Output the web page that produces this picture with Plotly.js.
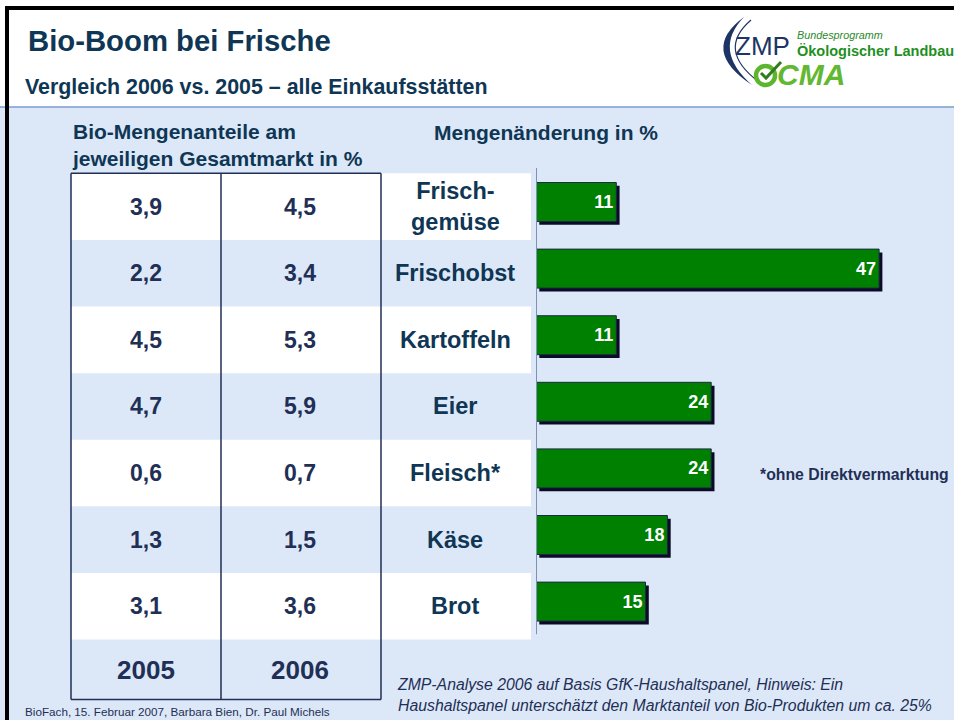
<!DOCTYPE html>
<html>
<head>
<meta charset="utf-8">
<script src="https://cdn.plot.ly/plotly-3.0.1.min.js"></script>
<style>
  html, body { margin: 0; padding: 0; background: #ffffff; }
  #chart { width: 954px; height: 720px; }
</style>
</head>
<body>
<div id="chart"></div>
<script>
// ---------------- data ----------------
const categories = ['Frisch-<br>gemüse', 'Frischobst', 'Kartoffeln', 'Eier', 'Fleisch*', 'Käse', 'Brot'];
const changePct  = [11, 47, 11, 24, 24, 18, 15];          // Mengenänderung in %
const share2005  = [3.9, 2.2, 4.5, 4.7, 0.6, 1.3, 3.1];  // Bio-Mengenanteil 2005 in %
const share2006  = [4.5, 3.4, 5.3, 5.9, 0.7, 1.5, 3.6];  // Bio-Mengenanteil 2006 in %
const yearLabels = ['2005', '2006'];

// ---------------- layout helpers ----------------
const W = 954, H = 720;
const X = p => p / W;          // pixel -> paper x
const Y = p => 1 - p / H;      // pixel -> paper y
const P = (x, y) => X(x) + ',' + Y(y);
const FONT = 'Liberation Sans, Arial, Helvetica, sans-serif';
const NAVY = '#0f3654';
const VALC = '#1f2f55';
const BG = '#dce8f8';
const fmt = v => v.toFixed(1).replace('.', ',');

const idx = categories.map((_, i) => i);
const rowPx0 = 202, rowPx = 66.6;                 // row geometry of the category axis
const yRange = [(H - rowPx0) / rowPx, (0 - rowPx0) / rowPx];
const barX0 = 536, pxPerUnit = 7.3;
const xRange = [0, (W - barX0) / pxPerUnit];

const barWidth = 0.585;
const bandTop = -0.43, bandBot = 0.57, txtOff = 0.07;
const tableBottom = categories.length + 0.47;
const yearRowY = categories.length + 0.02;
const colEdges = [71, 221, 381];
const colCenters = [146, 300];
const labelRight = 531, labelCenter = 455;

// ---------------- traces ----------------
const shadow = {
  type: 'bar', orientation: 'h',
  x: changePct, y: idx, base: 0.45,
  width: barWidth, offset: -barWidth / 2 + 0.05,
  marker: { color: '#0b0b26', line: { width: 0 } },
  hoverinfo: 'skip'
};
const bars = {
  type: 'bar', orientation: 'h',
  x: changePct, y: idx,
  width: barWidth,
  marker: { color: '#008000', line: { color: '#1a2a44', width: 1 } },
  text: changePct.map(v => '<b>' + v + '</b>'),
  textposition: 'inside', insidetextanchor: 'end', textangle: 0,
  constraintext: 'none',
  textfont: { color: '#ffffff', size: 18, family: FONT },
  hoverinfo: 'skip'
};

// ---------------- shapes ----------------
const shapes = [];
shapes.push({ type: 'rect', xref: 'paper', yref: 'paper', x0: 0, x1: 1, y0: 0, y1: Y(107),
  fillcolor: BG, line: { width: 0 }, layer: 'below' });
shapes.push({ type: 'line', xref: 'paper', yref: 'paper', x0: 0, x1: 1, y0: Y(107), y1: Y(107),
  line: { color: '#7b9dcc', width: 1.5 }, layer: 'below' });
idx.forEach(i => {
  if (i % 2 === 0) {
    shapes.push({ type: 'rect', xref: 'paper', yref: 'y', x0: X(colEdges[0]), x1: X(labelRight),
      y0: i + bandTop, y1: i + bandBot, fillcolor: '#ffffff', line: { width: 0 }, layer: 'below' });
  }
});
colEdges.forEach(c => {
  shapes.push({ type: 'line', xref: 'paper', yref: 'y', x0: X(c), x1: X(c), y0: bandTop, y1: tableBottom,
    line: { color: '#1f2f55', width: 1.5 } });
});
[bandTop, tableBottom].forEach(yy => {
  shapes.push({ type: 'line', xref: 'paper', yref: 'y', x0: X(colEdges[0]), x1: X(colEdges[2]), y0: yy, y1: yy,
    line: { color: '#1f2f55', width: 1.5 } });
});
shapes.push({ type: 'line', xref: 'x', yref: 'y', x0: 0, x1: 0, y0: -0.51, y1: categories.length - 0.51,
  line: { color: '#8090b2', width: 2 } });
shapes.push({ type: 'line', xref: 'paper', yref: 'paper', x0: X(5), x1: 1, y0: Y(8), y1: Y(8),
  line: { color: '#000000', width: 4 } });
shapes.push({ type: 'line', xref: 'paper', yref: 'paper', x0: X(7), x1: X(7), y0: Y(6), y1: 0,
  line: { color: '#000000', width: 4 } });
// logo arcs
shapes.push({ type: 'path', xref: 'paper', yref: 'paper',
  path: 'M ' + P(744, 17) + ' Q ' + P(699, 50) + ' ' + P(752, 85) + ' Q ' + P(712, 50) + ' ' + P(744, 17) + ' Z',
  fillcolor: '#1d3466', line: { width: 0 } });
shapes.push({ type: 'path', xref: 'paper', yref: 'paper',
  path: 'M ' + P(751, 20) + ' Q ' + P(716, 50) + ' ' + P(759, 82),
  line: { color: '#1d3466', width: 1.2 } });
// CMA mark
shapes.push({ type: 'circle', xref: 'paper', yref: 'paper', x0: X(756), x1: X(775), y0: Y(85), y1: Y(66),
  line: { color: '#5db52e', width: 4.5 } });
shapes.push({ type: 'path', xref: 'paper', yref: 'paper',
  path: 'M ' + P(761, 73) + ' L ' + P(766, 78) + ' L ' + P(781, 62),
  line: { color: '#2f7d1e', width: 3 } });

// ---------------- annotations ----------------
const ann = [];
const txt = (x, y, text, size, color, extra) => Object.assign({
  xref: 'paper', yref: 'paper', x: X(x), y: Y(y), text: text, showarrow: false,
  xanchor: 'left', yanchor: 'middle', font: { size: size, color: color, family: FONT }
}, extra || {});

ann.push(txt(26, 40, '<b>Bio-Boom bei Frische</b>', 29.3, NAVY));
ann.push(txt(23, 87, '<b>Vergleich 2006 vs. 2005 – alle Einkaufsstätten</b>', 21.4, NAVY));
ann.push(txt(70, 144.5, '<b>Bio-Mengenanteile am<br>jeweiligen Gesamtmarkt in %</b>', 21, NAVY, { align: 'left' }));
ann.push(txt(432, 132, '<b>Mengenänderung in %</b>', 21, NAVY));
ann.push(txt(758, 474, '<b>*ohne Direktvermarktung</b>', 15.8, VALC));
ann.push(txt(395, 695, '<i>ZMP-Analyse 2006 auf Basis GfK-Haushaltspanel, Hinweis: Ein<br>Haushaltspanel unterschätzt den Marktanteil von Bio-Produkten um ca. 25%</i>',
  15.8, VALC, { align: 'left' }));
ann.push(txt(23, 711, 'BioFach, 15. Februar 2007, Barbara Bien, Dr. Paul Michels', 11.7, VALC));
// logo texts
ann.push(txt(733, 46, 'ZMP', 26, '#1d3466'));
ann.push(txt(795, 35, '<i>Bundesprogramm</i>', 10.8, '#2a8a2a'));
ann.push(txt(795, 51, '<b>Ökologischer Landbau</b>', 14.5, '#1f8f1f'));
ann.push(txt(775, 75, '<b><i>CMA</i></b>', 30, '#62b830'));

const cell = (x, y, text, size, color) => ({
  xref: 'paper', yref: 'y', x: X(x), y: y, text: text, showarrow: false,
  xanchor: 'center', yanchor: 'middle', align: 'center',
  font: { size: size, color: color, family: FONT }
});
idx.forEach(i => {
  const yy = i + txtOff;
  ann.push(cell(colCenters[0], yy, '<b>' + fmt(share2005[i]) + '</b>', 23, VALC));
  ann.push(cell(colCenters[1], yy, '<b>' + fmt(share2006[i]) + '</b>', 23, VALC));
  ann.push(cell(labelCenter, yy, '<b>' + categories[i] + '</b>', 23.5, NAVY));
});
yearLabels.forEach((t, k) => {
  ann.push(cell(colCenters[k], yearRowY, '<b>' + t + '</b>', 26, VALC));
});

const layout = {
  width: W, height: H, autosize: false,
  margin: { l: 0, r: 0, t: 0, b: 0, pad: 0 },
  paper_bgcolor: '#ffffff', plot_bgcolor: 'rgba(0,0,0,0)',
  showlegend: false, barmode: 'overlay', hovermode: false,
  xaxis: { domain: [X(barX0), 1], range: xRange, visible: false, fixedrange: true },
  yaxis: { domain: [0, 1], range: yRange, visible: false, fixedrange: true },
  shapes: shapes, annotations: ann,
  font: { family: FONT }
};

Plotly.newPlot('chart', [shadow, bars], layout, { staticPlot: true, displayModeBar: false });
</script>
</body>
</html>
